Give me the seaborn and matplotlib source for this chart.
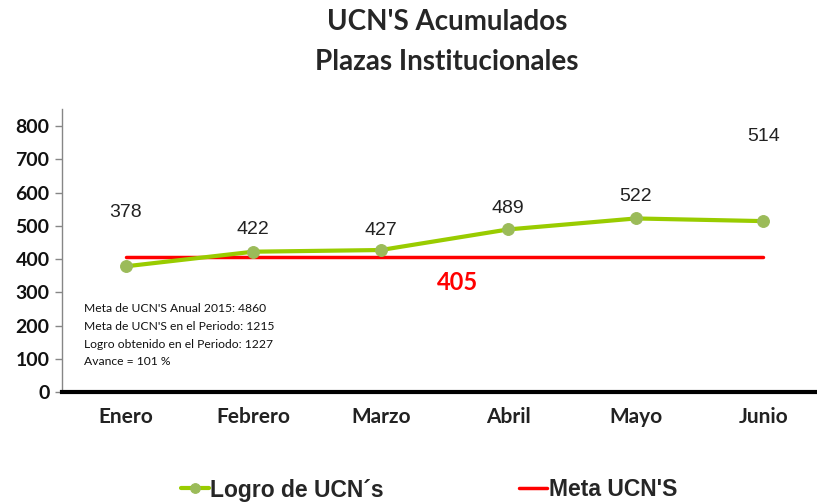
import matplotlib
matplotlib.use("Agg")
import matplotlib.pyplot as plt
import seaborn as sns
import pandas as pd
import numpy as np

months = ["Enero", "Febrero", "Marzo", "Abril", "Mayo", "Junio"]
logro = [378, 422, 427, 489, 522, 514]
meta = [405, 405, 405, 405, 405, 405]
meta_label = "405"
yticks = [0, 100, 200, 300, 400, 500, 600, 700, 800]
info_lines = ["Meta de UCN'S Anual 2015: 4860",
              "Meta de UCN'S en el Periodo: 1215",
              "Logro obtenido en el Periodo: 1227",
              "Avance = 101 %"]
# label offsets (pixels above point)
label_offsets = [54, 22, 20, 21, 22, 85]

sns.set_theme(style="white")
plt.rcParams['font.family'] = ['Lato', 'DejaVu Sans']

df = pd.DataFrame({"mes": months, "x": np.arange(len(months)), "logro": logro, "meta": meta})

fig = plt.figure(figsize=(8.17, 5.04), dpi=100)
ax = fig.add_axes([62/817, 112/504, 765/817, 282.6/504])

sns.lineplot(data=df, x="x", y="meta", ax=ax, color="#FF0000", linewidth=2.5, label="Meta UCN'S", zorder=2)
sns.lineplot(data=df, x="x", y="logro", ax=ax, color="#99CC00", linewidth=3, marker="o",
             markersize=8.5, markerfacecolor="#9BBB59", markeredgecolor="#9BBB59",
             label="Logro de UCN´s", zorder=3)

ax.set_xlim(-0.5, 5.5)
ax.set_ylim(0, 850)
ax.set_yticks(yticks)
ax.set_yticklabels([str(v) for v in yticks], fontsize=14, fontweight="bold", family=["Lato", "DejaVu Sans"])
ax.set_xticks(df["x"])
ax.set_xticklabels(months, fontsize=15, fontweight="bold", family=["Lato", "DejaVu Sans"])
ax.set_xticks(np.arange(-0.5, 6.0, 1.0), minor=True)
ax.tick_params(axis="x", which="major", length=0, pad=11, colors="#222222")
ax.tick_params(axis="x", which="minor", length=5, width=2, color="black", direction="out")
ax.tick_params(axis="y", which="major", length=5, width=1, color="#868686", direction="out", left=True, pad=4, labelcolor="#111111")
ax.set_xlabel("")
ax.set_ylabel("")

for s in ["top", "right"]:
    ax.spines[s].set_visible(False)
ax.spines["left"].set_color("#868686")
ax.spines["left"].set_linewidth(1)
ax.spines["bottom"].set_color("black")
ax.spines["bottom"].set_linewidth(3)

for xi, v, off in zip(df["x"], logro, label_offsets):
    ax.annotate(str(v), (xi, v), xytext=(0, off * 0.72), textcoords="offset points",
                ha="center", va="center", fontsize=14, color="#222222",
                family=["Liberation Sans", "DejaVu Sans"])

ax.text(2.6, 328, meta_label, color="#FF0000", fontsize=17, fontweight="bold",
        ha="center", va="center", family=["Lato", "DejaVu Sans"])

for i, line in enumerate(info_lines):
    ax.text(22/127.5 - 0.5, 250 - i * 53, line, fontsize=8.7, ha="left", va="center",
            color="#111111", family=["Lato", "DejaVu Sans"])

fig.text(447/817, 1 - 22/504, "UCN'S Acumulados", ha="center", va="center",
         fontsize=20, fontweight="bold", family=["Lato", "DejaVu Sans"])
fig.text(447/817, 1 - 62/504, "Plazas Institucionales", ha="center", va="center",
         fontsize=20, fontweight="bold", family=["Lato", "DejaVu Sans"])

handles, labels = ax.get_legend_handles_labels()
order = [1, 0]
leg = ax.legend([handles[i] for i in order], [labels[i] for i in order],
                loc="center", bbox_to_anchor=(429/817, 1 - 490/504), bbox_transform=fig.transFigure,
                ncol=2, frameon=False, columnspacing=5.9, handlelength=1.2, handletextpad=0.08,
                prop={"family": ["Liberation Sans", "DejaVu Sans"], "weight": "bold", "size": 16.5})
for h in leg.legend_handles:
    h.set_markersize(7)

fig.savefig("out.png", dpi=100)
